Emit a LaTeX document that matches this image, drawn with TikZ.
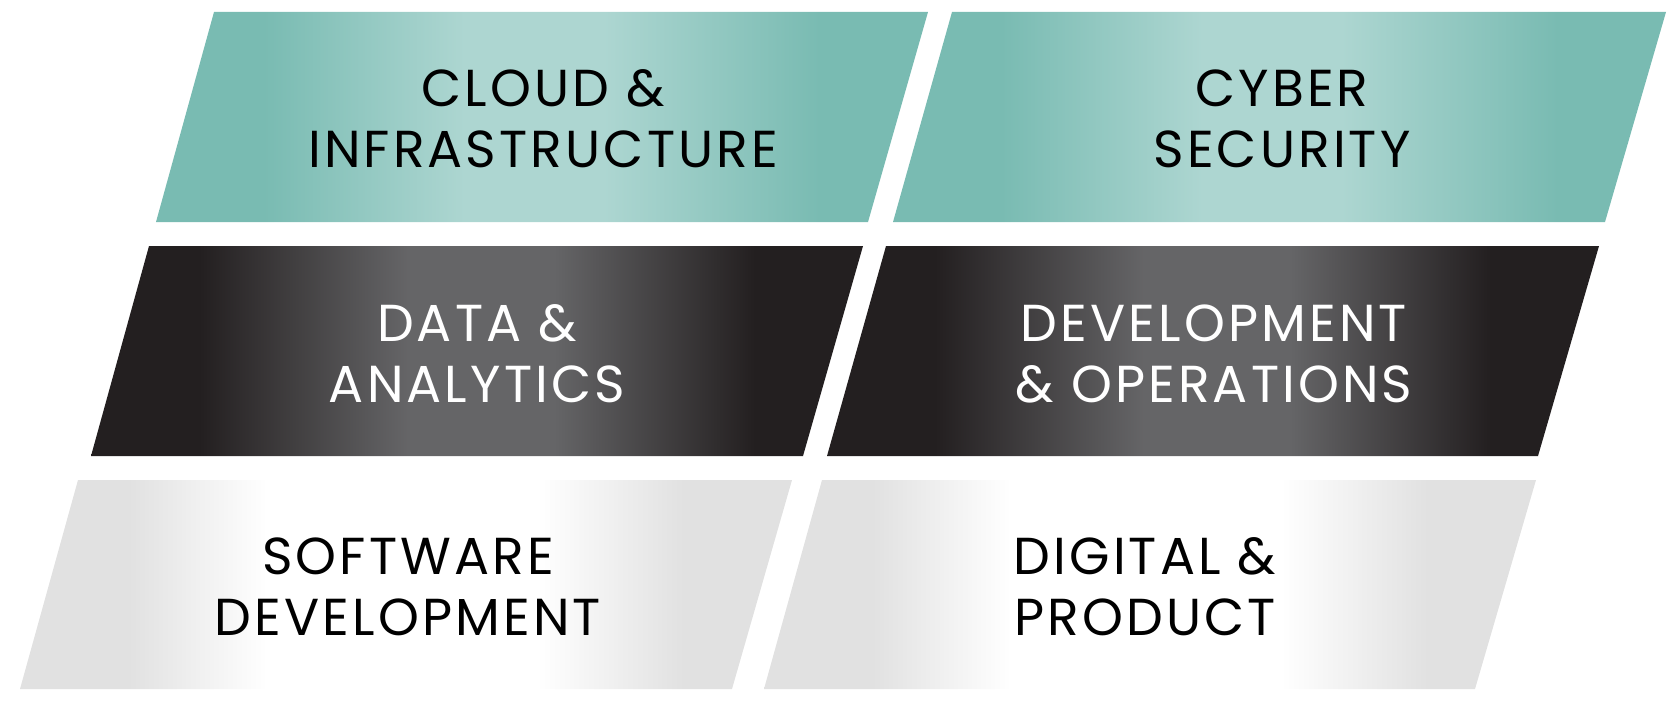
\documentclass[tikz,border=0pt]{standalone}
\usepackage{fontspec}
\setmainfont{Poppins}[LetterSpace=6]
\usetikzlibrary{positioning}

\definecolor{tealedge}{HTML}{79BBB2}
\definecolor{tealmid}{HTML}{ADD6D1}
\definecolor{darkedge}{HTML}{231F20}
\definecolor{darkmid}{HTML}{656567}
\definecolor{lightedge}{HTML}{E1E1E1}
\definecolor{lightmid}{HTML}{FFFFFF}

\pgfdeclarehorizontalshading{tealshade}{100bp}{color(0bp)=(tealedge); color(32bp)=(tealedge); color(45bp)=(tealmid); color(54bp)=(tealmid); color(68bp)=(tealedge); color(100bp)=(tealedge)}
\pgfdeclarehorizontalshading{darkshade}{100bp}{color(0bp)=(darkedge); color(32bp)=(darkedge); color(45.5bp)=(darkmid); color(55bp)=(darkmid); color(68bp)=(darkedge); color(100bp)=(darkedge)}
\pgfdeclarehorizontalshading{lightshade}{100bp}{color(0bp)=(lightedge); color(32bp)=(lightedge); color(41bp)=(lightmid); color(58.5bp)=(lightmid); color(68bp)=(lightedge); color(100bp)=(lightedge)}

\tikzset{
        tealpanel/.style={shading=tealshade},
        darkpanel/.style={shading=darkshade},
        lightpanel/.style={shading=lightshade},
        label/.style={align=center,inner sep=0pt,font=\fontsize{52}{61}\selectfont},
        }

\begin{document}
\begin{tikzpicture}[x=1pt,y=-1pt]

		\useasboundingbox (0,0) rectangle (1678,701);

		% top row..............................
		\shade [tealpanel] (214,12) -- (928,12) -- (868,222) -- (156,222) -- cycle;
		\shade [tealpanel] (952,12) -- (1666,12) -- (1605,222) -- (893,222) -- cycle;

		% middle row...........................
		\shade [darkpanel] (149,246) -- (863,246) -- (803,456) -- (91,456) -- cycle;
		\shade [darkpanel] (886,246) -- (1599,246) -- (1538,456) -- (827,456) -- cycle;

		% bottom row...........................
		\shade [lightpanel] (78,480) -- (792,480) -- (732,689) -- (20,689) -- cycle;
		\shade [lightpanel] (822,480) -- (1536,480) -- (1475,689) -- (764,689) -- cycle;

		% labels..............................
		\node [label, black] (cloud) at (543,119) {CLOUD \&\\INFRASTRUCTURE};
		\node [label, black] (cyber) at (1282,119) {CYBER\\SECURITY};
		\node [label, white] (data) at (477,354) {DATA \&\\ANALYTICS};
		\node [label, white] (devops) at (1214,354) {DEVELOPMENT\\\& OPERATIONS};
		\node [label, black] (software) at (408,587) {SOFTWARE\\DEVELOPMENT};
		\node [label, black] (digital) at (1145,587) {DIGITAL \&\\PRODUCT};

	\end{tikzpicture}
\end{document}
